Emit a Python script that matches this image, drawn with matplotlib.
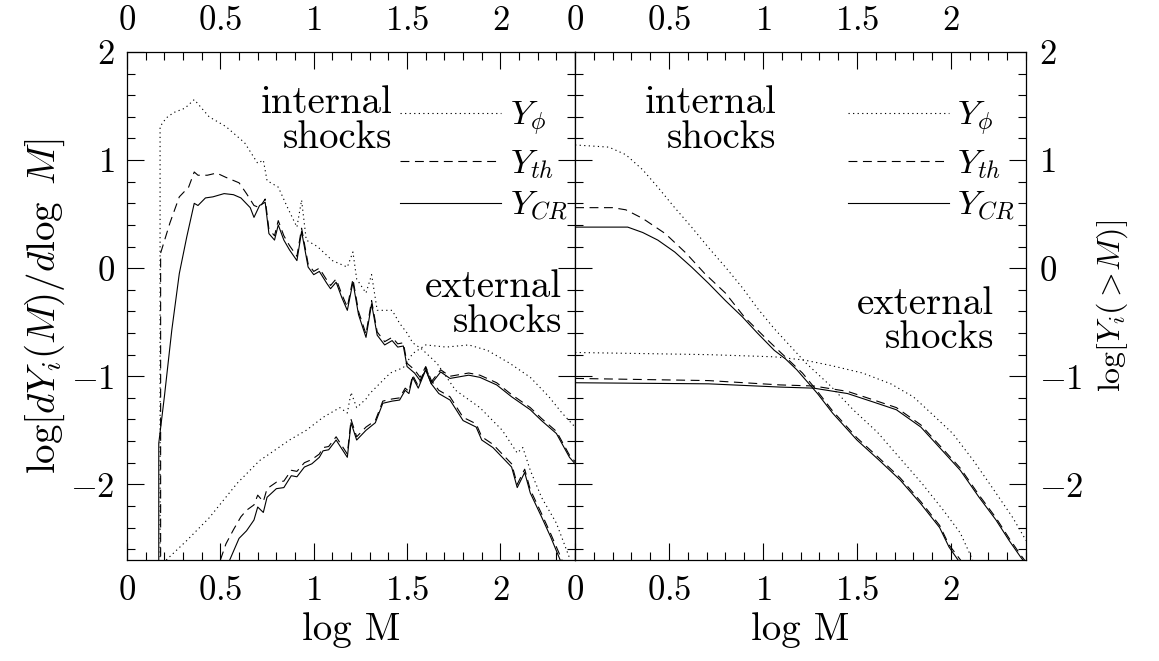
import matplotlib
matplotlib.use("Agg")
import matplotlib.pyplot as plt
from matplotlib.ticker import MultipleLocator, FuncFormatter

plt.rcParams['font.family'] = ['cmr10']
plt.rcParams['mathtext.fontset'] = 'cm'
plt.rcParams['axes.formatter.use_mathtext'] = True

# ---- left panel: differential distributions, dlog Y / dlog M ----
# internal shocks
int_phi_x = [0.177, 0.177, 0.21, 0.25, 0.31, 0.36, 0.44, 0.53, 0.63, 0.70, 0.73, 0.75, 0.81, 0.86, 0.91,
             0.935, 0.96, 1.02, 1.10, 1.18, 1.21, 1.23, 1.28, 1.31, 1.34, 1.42, 1.46, 1.50, 1.53, 1.58,
             1.66, 1.76, 1.89, 2.01, 2.09, 2.12, 2.16, 2.22, 2.30, 2.37]
int_phi_y = [-2.8, 1.31, 1.39, 1.44, 1.48, 1.56, 1.40, 1.31, 1.16, 0.97, 1.00, 0.81, 0.75, 0.56, 0.38,
             0.63, 0.26, 0.20, 0.07, 0.01, 0.15, -0.10, -0.23, -0.06, -0.39, -0.39, -0.51, -0.60, -0.69, -0.75,
             -0.88, -1.13, -1.29, -1.50, -1.71, -1.66, -1.87, -2.12, -2.36, -2.68]

int_th_x = [0.18, 0.18, 0.23, 0.28, 0.33, 0.36, 0.38, 0.43, 0.48, 0.53, 0.60, 0.64, 0.68, 0.71, 0.74,
            0.76, 0.79, 0.81, 0.84, 0.87, 0.91, 0.935, 0.97, 1.00, 1.03, 1.07, 1.09, 1.12, 1.15, 1.18,
            1.21, 1.24, 1.28, 1.31, 1.34, 1.38, 1.42, 1.45, 1.48, 1.50, 1.54, 1.57, 1.60, 1.63, 1.67,
            1.73, 1.80, 1.87, 1.90, 1.96, 2.01, 2.06, 2.09, 2.13, 2.16, 2.22, 2.27, 2.33]
int_th_y = [-2.8, 0.14, 0.42, 0.66, 0.75, 0.89, 0.86, 0.86, 0.88, 0.84, 0.79, 0.69, 0.58, 0.56, 0.64,
            0.36, 0.30, 0.44, 0.30, 0.21, 0.11, 0.37, 0.04, -0.03, 0.00, -0.11, -0.16, -0.10, -0.24, -0.36,
            -0.10, -0.40, -0.61, -0.30, -0.59, -0.68, -0.64, -0.70, -0.69, -0.88, -0.94, -1.01, -0.91, -1.04, -1.13,
            -1.19, -1.38, -1.44, -1.56, -1.63, -1.72, -1.81, -2.00, -1.86, -2.05, -2.27, -2.46, -2.70]

int_cr_x = [0.17, 0.17, 0.20, 0.24, 0.28, 0.32, 0.36, 0.38, 0.42, 0.46, 0.52, 0.57, 0.61, 0.66, 0.68,
            0.71, 0.74, 0.76, 0.79, 0.81, 0.84, 0.87, 0.91, 0.935, 0.97, 1.00, 1.03, 1.07, 1.09, 1.12,
            1.15, 1.18, 1.21, 1.24, 1.28, 1.31, 1.34, 1.38, 1.42, 1.45, 1.48, 1.50, 1.54, 1.57, 1.60,
            1.63, 1.67, 1.73, 1.80, 1.87, 1.90, 1.96, 2.01, 2.06, 2.09, 2.13, 2.16, 2.22, 2.27, 2.32]
int_cr_y = [-2.8, -1.62, -1.19, -0.57, -0.05, 0.29, 0.60, 0.58, 0.65, 0.66, 0.69, 0.68, 0.65, 0.56, 0.47,
            0.58, 0.61, 0.32, 0.26, 0.40, 0.26, 0.17, 0.07, 0.34, 0.01, -0.06, -0.03, -0.14, -0.19, -0.13,
            -0.27, -0.39, -0.13, -0.43, -0.64, -0.33, -0.62, -0.71, -0.67, -0.73, -0.72, -0.91, -0.97, -1.04, -0.94,
            -1.07, -1.16, -1.22, -1.41, -1.47, -1.59, -1.66, -1.75, -1.84, -2.03, -1.89, -2.08, -2.30, -2.49, -2.70]

# external shocks
ext_phi_x = [0.21, 0.32, 0.44, 0.59, 0.71, 0.77, 0.87, 0.96, 1.05, 1.14, 1.18, 1.20, 1.23, 1.28,
             1.30, 1.41, 1.48, 1.53, 1.60, 1.71, 1.83, 1.93, 2.05, 2.16, 2.26, 2.33, 2.40]
ext_phi_y = [-2.70, -2.52, -2.31, -1.99, -1.78, -1.71, -1.59, -1.50, -1.38, -1.29, -1.34, -1.15, -1.29, -1.21,
             -1.16, -0.97, -0.92, -0.79, -0.71, -0.73, -0.71, -0.76, -0.88, -1.01, -1.19, -1.34, -1.47]

ext_th_x = [0.50, 0.53, 0.57, 0.61, 0.64, 0.68, 0.70, 0.73, 0.75, 0.80, 0.84, 0.88, 0.91, 0.95, 0.99,
            1.03, 1.05, 1.08, 1.12, 1.18, 1.20, 1.23, 1.28, 1.33, 1.37, 1.42, 1.46, 1.49, 1.51, 1.53,
            1.56, 1.60, 1.63, 1.68, 1.73, 1.83, 1.89, 1.98, 2.06, 2.16, 2.22, 2.30, 2.37, 2.40]
ext_th_y = [-2.70, -2.55, -2.42, -2.30, -2.24, -2.19, -2.10, -2.16, -2.04, -1.98, -1.97, -1.87, -1.88, -1.80, -1.77,
            -1.72, -1.66, -1.65, -1.56, -1.72, -1.40, -1.56, -1.47, -1.41, -1.23, -1.21, -1.20, -1.11, -1.14, -0.99,
            -1.09, -0.92, -1.05, -0.94, -1.00, -0.97, -0.99, -1.06, -1.17, -1.29, -1.39, -1.51, -1.73, -1.79]

ext_cr_x = [0.55, 0.60, 0.64, 0.68, 0.70, 0.73, 0.75, 0.80, 0.84, 0.88, 0.91, 0.95, 0.99, 1.03, 1.05,
            1.08, 1.12, 1.18, 1.20, 1.23, 1.28, 1.33, 1.37, 1.42, 1.46, 1.49, 1.51, 1.53, 1.56, 1.60,
            1.63, 1.68, 1.73, 1.83, 1.89, 1.98, 2.06, 2.16, 2.22, 2.30, 2.37, 2.40]
ext_cr_y = [-2.70, -2.50, -2.43, -2.33, -2.21, -2.26, -2.12, -2.04, -2.03, -1.92, -1.93, -1.84, -1.81, -1.75, -1.69,
            -1.68, -1.59, -1.75, -1.43, -1.59, -1.50, -1.43, -1.25, -1.23, -1.22, -1.13, -1.16, -1.01, -1.11, -0.94,
            -1.07, -0.96, -1.02, -0.99, -1.01, -1.08, -1.19, -1.31, -1.41, -1.53, -1.75, -1.81]

# ---- right panel: cumulative distributions, log Y(>M) ----
cum_int_phi_x = [0.0, 0.18, 0.27, 0.36, 0.44, 0.53, 0.62, 0.71, 0.80, 0.89, 0.97, 1.06, 1.15, 1.23,
                 1.36, 1.48, 1.61, 1.73, 1.85, 1.96, 2.05, 2.10, 2.12]
cum_int_phi_y = [1.14, 1.12, 1.05, 0.91, 0.75, 0.56, 0.38, 0.19, 0.01, -0.18, -0.37, -0.56, -0.73, -0.88,
                 -1.09, -1.31, -1.52, -1.76, -2.00, -2.24, -2.45, -2.64, -2.72]

cum_int_th_x = [0.0, 0.20, 0.27, 0.36, 0.48, 0.59, 0.69, 0.80, 0.90, 1.01, 1.10, 1.21, 1.29, 1.37,
                1.50, 1.62, 1.73, 1.84, 1.94, 1.99, 2.06]
cum_int_th_y = [0.56, 0.56, 0.54, 0.46, 0.32, 0.14, -0.05, -0.23, -0.45, -0.64, -0.79, -0.97, -1.14, -1.32,
                -1.57, -1.76, -1.94, -2.16, -2.38, -2.56, -2.72]

cum_int_cr_x = [0.0, 0.28, 0.36, 0.44, 0.53, 0.62, 0.71, 0.80, 0.89, 0.97, 1.06, 1.12, 1.18, 1.29,
                1.37, 1.50, 1.62, 1.73, 1.84, 1.94, 1.99, 2.05]
cum_int_cr_y = [0.38, 0.38, 0.33, 0.26, 0.15, 0.01, -0.14, -0.30, -0.45, -0.60, -0.76, -0.84, -0.94, -1.16,
                -1.34, -1.59, -1.78, -1.96, -2.18, -2.40, -2.58, -2.73]

cum_ext_phi_x = [0.0, 0.36, 0.71, 1.06, 1.22, 1.36, 1.53, 1.68, 1.80, 1.90, 2.01, 2.12, 2.22, 2.33, 2.40]
cum_ext_phi_y = [-0.78, -0.79, -0.80, -0.82, -0.85, -0.90, -0.97, -1.07, -1.19, -1.35, -1.53, -1.78, -2.03,
                 -2.31, -2.52]

cum_ext_x = [0.0, 0.71, 1.09, 1.27, 1.45, 1.59, 1.71, 1.84, 1.94, 2.05, 2.15, 2.24, 2.31, 2.37, 2.40]
cum_ext_th_y = [-1.02, -1.04, -1.08, -1.09, -1.14, -1.22, -1.29, -1.45, -1.64, -1.85, -2.10, -2.31, -2.50,
                -2.65, -2.72]
cum_ext_cr_y = [-1.06, -1.07, -1.10, -1.11, -1.16, -1.24, -1.31, -1.47, -1.66, -1.87, -2.12, -2.33, -2.52,
                -2.67, -2.74]

legend_labels = [r'$Y_{\phi}$', r'$Y_{th}$', r'$Y_{CR}$']

FS = 25       # tick labels / legend
FS_TXT = 28   # annotations and axis labels
DOT = (0, (1.1, 3.0))
DASH = (0, (8, 5))
LW = 0.8


def tick_fmt(v, pos):
    return r'$\mathdefault{%g}$' % v


def style_axis(ax, right_labels):
    ax.set_xlim(0, 2.4)
    ax.set_ylim(-2.7, 2.0)
    ax.xaxis.set_major_locator(MultipleLocator(0.5))
    ax.xaxis.set_minor_locator(MultipleLocator(0.1))
    ax.yaxis.set_major_locator(MultipleLocator(1))
    ax.yaxis.set_minor_locator(MultipleLocator(0.2))
    ax.xaxis.set_major_formatter(FuncFormatter(tick_fmt))
    ax.yaxis.set_major_formatter(FuncFormatter(tick_fmt))
    ax.tick_params(which='both', direction='in', top=True, bottom=True, left=True, right=True,
                   labeltop=True, labelbottom=True, width=0.8, labelsize=FS)
    ax.tick_params(which='major', length=12)
    ax.tick_params(which='minor', length=6)
    ax.tick_params(axis='x', pad=11)
    ax.tick_params(axis='y', pad=9, labelleft=not right_labels, labelright=right_labels)
    for s in ax.spines.values():
        s.set_linewidth(0.9)
    ax.set_xlabel('log M', fontsize=FS_TXT, labelpad=4)


fig = plt.figure(figsize=(11.59, 6.61), dpi=100)
axL = fig.add_axes([0.1096, 0.1528, 0.3866, 0.7685])
axR = fig.add_axes([0.4962, 0.1528, 0.3891, 0.7685])

# left panel
axL.plot(int_phi_x, int_phi_y, color='k', lw=LW, ls=DOT, label=legend_labels[0])
axL.plot(int_th_x, int_th_y, color='k', lw=LW, ls=DASH, label=legend_labels[1])
axL.plot(int_cr_x, int_cr_y, color='k', lw=LW, ls='-', label=legend_labels[2])
axL.plot(ext_phi_x, ext_phi_y, color='k', lw=LW, ls=DOT)
axL.plot(ext_th_x, ext_th_y, color='k', lw=LW, ls=DASH)
axL.plot(ext_cr_x, ext_cr_y, color='k', lw=LW, ls='-')

# right panel
axR.plot(cum_int_phi_x, cum_int_phi_y, color='k', lw=LW, ls=DOT, label=legend_labels[0])
axR.plot(cum_int_th_x, cum_int_th_y, color='k', lw=LW, ls=DASH, label=legend_labels[1])
axR.plot(cum_int_cr_x, cum_int_cr_y, color='k', lw=LW, ls='-', label=legend_labels[2])
axR.plot(cum_ext_phi_x, cum_ext_phi_y, color='k', lw=LW, ls=DOT)
axR.plot(cum_ext_x, cum_ext_th_y, color='k', lw=LW, ls=DASH)
axR.plot(cum_ext_x, cum_ext_cr_y, color='k', lw=LW, ls='-')

style_axis(axL, right_labels=False)
style_axis(axR, right_labels=True)

for ax, anchor in ((axL, (0.61, 0.905)), (axR, (0.605, 0.905))):
    ax.legend(loc='upper left', bbox_to_anchor=anchor, frameon=False, fontsize=FS,
              handlelength=2.9, handletextpad=0.25, labelspacing=0.27,
              borderpad=0, borderaxespad=0)

# annotations
txt = dict(fontsize=FS_TXT, ha='right', va='baseline')
axL.text(1.42, 1.44, 'internal', **txt)
axL.text(1.42, 1.11, 'shocks', **txt)
axL.text(2.33, -0.27, 'external', **txt)
axL.text(2.33, -0.59, 'shocks', **txt)
axR.text(1.07, 1.44, 'internal', **txt)
axR.text(1.07, 1.11, 'shocks', **txt)
axR.text(2.23, -0.42, 'external', **txt)
axR.text(2.23, -0.74, 'shocks', **txt)

axL.set_ylabel(r'$\log[dY_i(M)/d\log\ M]$', fontsize=FS_TXT, labelpad=2)
axR.yaxis.set_label_position('right')
axR.set_ylabel(r'$\log[Y_i(>\!M)]$', fontsize=23, labelpad=8)

fig.savefig('out.png', dpi=100)
